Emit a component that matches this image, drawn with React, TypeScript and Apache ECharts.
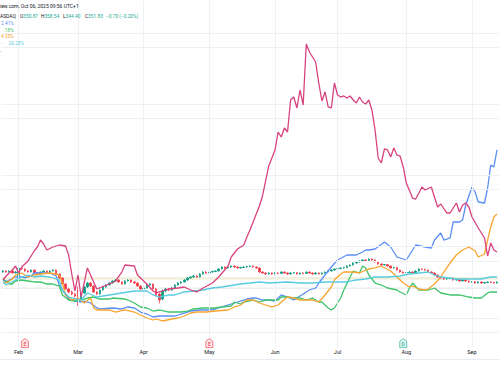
import React, { useEffect, useRef } from "react";
import * as echarts from "echarts";

// ---- calendar (trading days shown on the time scale) ----
const startDate = "2025-01-27";
const endDate = "2025-09-12";
const marketHolidays = ["2025-02-17", "2025-04-18", "2025-05-26", "2025-06-19", "2025-07-04", "2025-09-01"];
const monthNames = ["Jan", "Feb", "Mar", "Apr", "May", "Jun", "Jul", "Aug", "Sep", "Oct", "Nov", "Dec"];

// ---- main symbol candles: [open, close, low, high] ----
const candles: number[][] = [
  [362.0, 363.0, 361.2, 364.1], [363.0, 362.0, 361.1, 363.8], [362.0, 363.0, 361.4, 363.9], [363.0, 361.0, 360.2, 363.5],
  [361.0, 362.0, 360.5, 362.9], [356.0, 366.0, 355.2, 366.8], [366.0, 365.0, 364.1, 367.0], [365.0, 363.0, 362.2, 365.6],
  [363.0, 362.0, 361.3, 363.9], [362.0, 364.0, 361.5, 364.8], [364.0, 361.0, 360.4, 364.5], [361.0, 360.0, 359.1, 361.9],
  [360.0, 362.0, 359.5, 362.7], [362.0, 363.0, 361.2, 363.9], [363.0, 361.0, 360.3, 363.6], [361.0, 363.0, 360.6, 363.8],
  [363.0, 364.0, 362.4, 364.9], [364.0, 360.0, 359.2, 364.5], [360.0, 356.0, 355.1, 360.6], [356.0, 350.0, 349.0, 356.8],
  [350.0, 345.0, 344.1, 351.0], [345.0, 342.0, 340.8, 346.2], [342.0, 340.0, 338.9, 343.5], [340.0, 338.0, 336.5, 341.2],
  [344.0, 332.0, 328.0, 348.0], [334.0, 340.0, 332.5, 341.0], [341.0, 347.0, 339.8, 348.0], [347.0, 351.0, 346.0, 352.2],
  [351.0, 348.0, 347.1, 352.0], [348.0, 342.0, 341.0, 348.9], [342.0, 340.0, 338.8, 343.0], [340.0, 344.0, 339.2, 345.1],
  [344.0, 347.0, 343.3, 348.0], [347.0, 349.0, 346.2, 350.1], [349.0, 351.0, 348.4, 351.9], [351.0, 353.0, 350.2, 353.8],
  [353.0, 354.0, 352.1, 355.0], [354.0, 352.0, 351.3, 354.9], [352.0, 350.0, 349.2, 352.8], [350.0, 353.0, 349.5, 353.9],
  [353.0, 354.0, 352.4, 354.8], [354.0, 352.0, 351.0, 354.6], [352.0, 351.0, 350.1, 352.9], [351.0, 348.0, 347.2, 351.6],
  [348.0, 345.0, 344.0, 348.7], [345.0, 346.0, 343.8, 347.1], [346.0, 349.0, 345.4, 349.9], [349.0, 350.0, 348.2, 351.0],
  [350.0, 345.0, 344.1, 350.5], [345.0, 339.0, 337.8, 345.9], [340.0, 334.0, 330.5, 341.2], [335.0, 343.0, 333.6, 344.5],
  [343.0, 345.0, 341.8, 346.3], [345.0, 344.0, 342.9, 346.0], [344.0, 346.0, 343.1, 347.2], [346.0, 349.0, 345.3, 350.0],
  [349.0, 351.0, 348.1, 352.0], [351.0, 352.0, 350.2, 353.1], [352.0, 354.0, 351.4, 354.9], [354.0, 356.0, 353.2, 356.8],
  [356.0, 357.0, 355.3, 357.9], [357.0, 358.0, 356.2, 359.1], [358.0, 357.0, 356.1, 358.8], [357.0, 360.0, 356.5, 360.9],
  [360.0, 362.0, 359.2, 362.8], [362.0, 361.0, 360.1, 362.9], [361.0, 362.0, 360.3, 362.7], [362.0, 362.5, 361.3, 363.4],
  [362.5, 363.0, 361.8, 363.9], [363.0, 365.0, 362.4, 365.8], [365.0, 367.0, 364.3, 367.9], [367.0, 366.0, 365.2, 367.6],
  [366.0, 367.0, 365.4, 367.8], [367.0, 368.0, 366.2, 368.9], [368.0, 367.0, 366.1, 368.6], [367.0, 366.0, 365.3, 367.7],
  [366.0, 366.5, 365.2, 367.3], [366.5, 367.0, 365.8, 367.9], [367.0, 367.5, 366.2, 368.3], [367.5, 368.0, 366.8, 368.9],
  [368.0, 367.0, 366.1, 368.7], [367.0, 366.0, 365.2, 367.6], [366.0, 362.0, 361.0, 366.5], [362.0, 361.0, 360.1, 362.8],
  [361.0, 360.0, 359.2, 361.7], [360.0, 361.0, 359.4, 361.9], [361.0, 360.0, 359.1, 361.6], [360.0, 361.0, 359.3, 361.8],
  [361.0, 360.6, 359.8, 361.7], [360.6, 362.0, 360.0, 362.7], [362.0, 361.0, 360.3, 362.6], [361.0, 360.0, 359.1, 361.5],
  [360.0, 361.0, 359.4, 361.8], [361.0, 361.4, 360.2, 362.1], [361.4, 360.0, 359.3, 361.9], [360.0, 361.0, 359.5, 361.7],
  [361.0, 360.6, 359.9, 361.8], [360.6, 362.0, 360.1, 362.6], [362.0, 361.0, 360.2, 362.5], [361.0, 360.0, 359.2, 361.6],
  [360.0, 361.0, 359.5, 361.9], [361.0, 360.0, 359.3, 361.7], [360.0, 361.0, 359.6, 361.8], [361.0, 362.0, 360.4, 362.7],
  [362.0, 363.0, 361.5, 363.8], [363.0, 364.0, 362.3, 364.9], [364.0, 365.0, 363.4, 365.7], [365.0, 365.4, 364.2, 366.1],
  [365.4, 366.0, 364.8, 366.9], [366.0, 366.4, 365.2, 367.2], [366.4, 368.0, 365.9, 368.8], [368.0, 369.0, 367.3, 369.8],
  [369.0, 371.0, 368.4, 371.9], [371.0, 372.0, 370.2, 372.8], [372.0, 373.0, 371.3, 373.9], [373.0, 374.0, 372.4, 374.8],
  [374.0, 373.6, 372.8, 374.9], [373.6, 375.0, 373.1, 375.8], [375.0, 374.0, 373.2, 375.7], [374.0, 372.0, 371.2, 374.6],
  [372.0, 370.0, 369.1, 372.5], [370.0, 369.0, 368.3, 370.8], [369.0, 369.4, 368.2, 370.1], [369.4, 368.0, 367.2, 369.9],
  [368.0, 366.0, 365.3, 368.6], [366.0, 366.4, 365.2, 367.1], [366.4, 364.0, 363.2, 366.9], [364.0, 362.0, 361.1, 364.5],
  [362.0, 361.0, 360.2, 362.7], [361.0, 361.4, 360.3, 362.2], [361.4, 362.0, 360.9, 362.8], [362.0, 361.0, 360.2, 362.6],
  [361.0, 363.0, 360.5, 363.7], [363.0, 365.0, 362.3, 365.8], [365.0, 364.6, 363.8, 365.7], [364.6, 364.0, 363.1, 365.3],
  [364.0, 362.0, 361.3, 364.5], [362.0, 361.0, 360.2, 362.8], [361.0, 359.0, 358.1, 361.6], [359.0, 357.0, 356.2, 359.5],
  [357.0, 356.0, 355.3, 357.8], [356.0, 355.0, 354.1, 356.7], [355.0, 355.4, 354.2, 356.1], [355.4, 356.0, 354.8, 356.9],
  [356.0, 354.0, 353.3, 356.5], [354.0, 354.4, 353.2, 355.1], [354.4, 353.0, 352.2, 354.9], [353.0, 354.0, 352.5, 354.8],
  [354.0, 353.0, 352.2, 354.6], [353.0, 352.0, 351.1, 353.7], [352.0, 352.4, 351.3, 353.1], [352.4, 351.0, 350.2, 352.9],
  [351.0, 352.0, 350.4, 352.8], [352.0, 351.0, 350.1, 352.6], [351.0, 351.4, 350.3, 352.1], [351.4, 352.0, 350.8, 352.7],
  [352.0, 351.6, 350.9, 352.8], [351.6, 351.0, 350.2, 352.3], [351.0, 352.0, 350.3, 352.7],
];

// ---- compared symbols: [trading-day index, % change] ----
const magentaSeries: number[][] = [
  [0, -5.33], [1, -4.21], [3, -2.53], [4, -1.4], [5, -3.37], [6, -1.68], [8, 0], [10, 2.81], [11, 3.93], [12, 5.89],
  [13, 4.77], [14, 3.09], [16, 3.93], [18, 4.49], [20, 4.21], [21, 1.68], [22, -3.65], [23, -8.42], [24, -3.93],
  [25, -10.1], [27, -1.96], [29, -5.89], [30, -7.86], [34, -6.46], [36, -5.61], [38, -3.09], [39, -1.12], [42, -1.4],
  [43, -3.93], [45, -5.61], [46, -6.46], [48, -8.42], [49, -8.98], [53, -7.86], [56, -7.58], [58, -7.3], [60, -8.14],
  [62, -8.7], [64, -7.58], [67, -6.18], [69, -4.49], [72, -1.4], [73, 1.12], [75, 3.37], [77, 4.49], [78, 6.74],
  [79, 8.7], [80, 10.95], [81, 13.19], [82, 15.44], [83, 18.25], [84, 22.46], [85, 26.67], [87, 31.16], [88, 36.21],
  [89, 34.81], [90, 37.33], [91, 36.21], [92, 45.19], [93, 46.03], [94, 42.95], [95, 48.0], [96, 43.79], [97, 60.91],
  [98, 58.67], [100, 55.86], [101, 49.96], [102, 44.91], [103, 47.44], [104, 43.23], [105, 42.95], [106, 49.96],
  [107, 46.6], [108, 46.03], [109, 46.32], [110, 45.75], [111, 46.32], [112, 45.19], [113, 44.35], [114, 46.03],
  [115, 44.63], [116, 44.07], [117, 45.19], [118, 42.39], [119, 36.77], [120, 28.91], [121, 27.51], [122, 31.44],
  [123, 31.16], [124, 29.19], [125, 31.72], [126, 29.75], [127, 29.47], [128, 26.39], [129, 21.89], [131, 17.68],
  [132, 17.4], [134, 20.77], [135, 19.93], [137, 20.77], [138, 17.96], [139, 15.16], [140, 16.0], [142, 13.47],
  [143, 13.47], [145, 16.28], [146, 13.75], [147, 15.72], [148, 16.28], [149, 15.16], [150, 12.35], [152, 9.26],
  [154, 6.46], [155, 1.4], [156, 5.05], [157, 3.09], [158, 2.53],
];
const blueSeries: number[][] = [
  [0, -5.33], [1, -5.89], [2, -5.33], [4, -4.49], [6, -4.49], [7, -4.77], [9, -4.21], [10, -3.37], [13, -3.37],
  [15, -3.37], [17, -4.21], [18, -6.74], [19, -8.14], [21, -10.67], [23, -11.23], [25, -11.51], [26, -11.23],
  [28, -11.79], [30, -13.19], [31, -13.47], [35, -13.19], [38, -13.47], [40, -12.91], [42, -13.19], [44, -14.32],
  [46, -14.88], [48, -15.72], [50, -15.44], [55, -15.44], [58, -14.6], [60, -14.04], [63, -13.75], [66, -13.75],
  [68, -13.47], [70, -12.91], [73, -12.07], [76, -11.23], [78, -10.67], [80, -10.39], [81, -10.39], [83, -10.95],
  [85, -10.95], [87, -11.23], [88, -10.39], [89, -9.54], [91, -10.11], [93, -10.95], [94, -10.39], [97, -8.7],
  [98, -8.14], [100, -7.58], [101, -6.18], [103, -3.93], [105, -1.68], [107, 0.28], [110, 1.68], [112, 1.68],
  [113, 1.68], [115, 2.53], [116, 3.09], [117, 3.09], [119, 3.37], [122, 5.33], [124, 3.93], [126, 1.12], [127, 0.84],
  [129, 0.28], [130, 1.68], [132, 4.49], [135, 3.93], [137, 3.65], [138, 5.89], [140, 7.86], [141, 5.89], [143, 6.46],
  [144, 10.95], [146, 10.95], [147, 11.51], [148, 15.72], [150, 20.77], [151, 19.37], [152, 16.56], [154, 16.28],
  [155, 20.49], [156, 26.95], [157, 26.39], [158, 31.16],
];
const orangeSeries: number[][] = [
  [0, -5.89], [1, -6.18], [3, -5.05], [4, -3.93], [6, -3.37], [8, -4.49], [10, -3.93], [12, -3.65], [15, -3.37],
  [18, -3.93], [19, -6.18], [20, -9.54], [22, -10.95], [24, -10.39], [26, -11.79], [28, -10.39], [29, -13.19],
  [30, -13.75], [34, -13.75], [36, -14.32], [39, -13.75], [42, -14.32], [44, -15.16], [46, -16.0], [48, -16.56],
  [49, -16.28], [51, -16.84], [54, -16.28], [56, -16.0], [58, -15.44], [60, -14.6], [62, -14.32], [65, -14.32],
  [68, -14.04], [72, -13.75], [74, -12.91], [76, -12.35], [78, -10.95], [80, -10.95], [82, -11.79], [84, -12.35],
  [86, -12.91], [88, -12.35], [89, -11.51], [91, -10.11], [93, -10.39], [95, -10.95], [97, -10.95], [99, -10.95],
  [101, -11.51], [103, -9.54], [105, -7.3], [106, -5.33], [108, -3.65], [109, -3.09], [112, -3.09], [114, -3.37],
  [116, -2.53], [117, -2.25], [119, -1.96], [121, -1.4], [124, -2.81], [126, -4.49], [128, -6.18], [130, -7.3],
  [131, -7.02], [133, -7.86], [135, -8.14], [136, -7.86], [138, -6.46], [140, -4.49], [141, -3.09], [143, -0.56],
  [145, 1.68], [147, 3.09], [149, 3.93], [151, 2.81], [152, 1.12], [154, 1.96], [155, 5.89], [156, 9.54],
  [157, 12.35], [158, 13.19],
];
const greenSeries: number[][] = [
  [0, -5.05], [1, -5.61], [2, -6.46], [3, -6.46], [4, -5.61], [6, -5.33], [8, -5.61], [10, -5.89], [12, -5.89],
  [14, -6.46], [16, -6.46], [18, -7.02], [19, -9.54], [21, -10.95], [23, -11.23], [25, -10.95], [27, -10.39],
  [29, -10.11], [31, -10.67], [34, -10.67], [35, -10.39], [39, -10.67], [40, -10.95], [42, -11.79], [44, -12.91],
  [46, -13.19], [48, -14.04], [50, -13.75], [53, -14.32], [57, -14.32], [59, -14.04], [61, -13.47], [64, -13.19],
  [66, -13.19], [68, -13.19], [70, -12.91], [73, -12.63], [74, -11.51], [76, -12.07], [77, -11.51], [80, -10.95],
  [82, -11.51], [84, -10.95], [88, -10.95], [89, -10.11], [91, -10.11], [93, -10.39], [95, -10.39], [97, -10.95],
  [99, -10.39], [101, -11.51], [102, -11.51], [104, -13.19], [105, -13.75], [106, -13.19], [108, -10.39],
  [109, -8.14], [111, -4.49], [112, -2.81], [113, -3.09], [114, -3.37], [115, -1.4], [116, -1.96], [117, -3.93],
  [119, -6.18], [121, -6.74], [123, -7.58], [126, -8.14], [127, -8.7], [129, -9.54], [130, -7.58], [131, -6.18],
  [133, -8.14], [136, -8.14], [138, -7.58], [140, -8.98], [143, -9.54], [146, -9.54], [149, -10.11], [151, -10.39],
  [153, -10.39], [155, -8.98], [156, -8.7], [158, -8.7],
];
const cyanSeries: number[][] = [
  [0, -5.89], [1, -6.74], [4, -5.33], [6, -4.49], [8, -3.93], [10, -4.49], [12, -4.21], [15, -4.49], [18, -5.33],
  [19, -8.14], [21, -10.11], [25, -10.95], [27, -8.98], [30, -10.11], [34, -9.54], [38, -8.98], [42, -8.42],
  [46, -8.42], [48, -9.54], [50, -10.11], [53, -9.54], [55, -9.54], [58, -8.7], [61, -8.42], [64, -8.14], [67, -7.58],
  [70, -7.3], [74, -6.74], [76, -6.46], [79, -6.18], [82, -5.89], [85, -6.18], [91, -5.89], [95, -6.18], [99, -6.18],
  [103, -5.89], [110, -5.89], [113, -5.33], [116, -5.05], [119, -4.49], [123, -4.49], [127, -4.21], [130, -3.65],
  [133, -3.37], [136, -3.09], [138, -3.93], [140, -4.49], [145, -5.05], [149, -5.05], [153, -5.05], [156, -4.49],
  [158, -4.49],
];

// ---- reference lines / events ----
const gridPctLevels = [64, 60, 44, 40, 24, 20, 4, 0, -16, -20];
const priceBands = [[354.3, 357.0], [344.9, 346.6]];
const events = [
  { date: "2025-02-05", kind: "E" },
  { date: "2025-05-01", kind: "E" },
  { date: "2025-07-31", kind: "D" },
];

// ---- legend texts ----
const headerText = "iew.com, Oct 06, 2025 09:56 UTC+1";
const symbolText = "ASDAQ";
const ohlcLabels = [["O", "350.87"], ["H", "358.54"], ["L", "344.40"], ["C", "351.83"]];
const changeText = "\u22120.70 (\u22120.20%)";
const compareTexts = ["2.41%", ".18%", "4.35%", "26.23%", "-"];

function tradingDays(): string[] {
  const out: string[] = [];
  const d = new Date(startDate + "T00:00:00Z");
  const end = new Date(endDate + "T00:00:00Z");
  while (d.getTime() <= end.getTime()) {
    const dow = d.getUTCDay();
    const s = d.toISOString().slice(0, 10);
    if (dow !== 0 && dow !== 6 && marketHolidays.indexOf(s) < 0) out.push(s);
    d.setUTCDate(d.getUTCDate() + 1);
  }
  return out;
}

export default function App() {
  const ref = useRef<HTMLDivElement>(null);
  useEffect(() => {
    if (!ref.current) return;
    const chart = echarts.init(ref.current, undefined, { renderer: "svg" });
    const days = tradingDays();
    const n = days.length;
    const monthStarts: number[] = [];
    days.forEach((d, i) => {
      if (i > 0 && d.slice(5, 7) !== days[i - 1].slice(5, 7)) monthStarts.push(i);
    });

    const pctMin = -24.14;
    const pctMax = 73.26;
    const font = "Roboto, 'Liberation Sans', sans-serif";
    const dark = "#131722";
    const teal = "#22ab94";

    const colors = {
      magenta: "#d8437f",
      blue: "#5b8ff5",
      orange: "#f7a531",
      green: "#3fc46a",
      cyan: "#58cbe0",
    };

    const lineSeries = (name: string, data: number[][], color: string, z: number) => ({
      name,
      type: "line",
      xAxisIndex: 1,
      yAxisIndex: 1,
      data,
      showSymbol: false,
      symbol: "none",
      lineStyle: { color, width: 1.3 },
      z,
      silent: true,
    });

    const badgePath = "path://M4 0 L8 3 L8 10 L0 10 L0 3 Z";
    const badgeData = events.map((e) => ({
      value: [days.indexOf(e.date), pctMin + 1.1],
      symbol: badgePath,
      symbolSize: [7, 9],
      itemStyle: {
        color: e.kind === "E" ? "#fde1e4" : "#d9f3ee",
        borderColor: e.kind === "E" ? "#f23645" : "#22ab94",
        borderWidth: 0.8,
      },
      label: {
        show: true,
        formatter: e.kind,
        color: e.kind === "E" ? "#f23645" : "#22ab94",
        fontSize: 5,
        fontWeight: "bold",
        fontFamily: font,
        position: "inside",
        offset: [0, 0.8],
      },
    }));

    const textRow = (text: string, x: number, y: number, fill: string, size = 4.8) => ({
      type: "text",
      x,
      y,
      silent: true,
      z: 100,
      style: { text, fill, fontSize: size, fontFamily: font, verticalAlign: "middle", textVerticalAlign: "middle" },
    });

    const ohlcX = [20, 41, 63, 85];
    const graphic: any[] = [
      textRow(headerText, 0, 6, dark, 5),
      textRow(symbolText, 0, 16, dark, 4.9),
      ...ohlcLabels.map((p, i) => ({
        type: "text",
        x: ohlcX[i],
        y: 16,
        silent: true,
        z: 100,
        style: {
          text: `{l|${p[0]}}{v|${p[1]}}`,
          fontSize: 4.8,
          fontFamily: font,
          verticalAlign: "middle",
          textVerticalAlign: "middle",
          rich: {
            l: { fill: dark, fontSize: 4.8, fontFamily: font },
            v: { fill: teal, fontSize: 4.8, fontFamily: font },
          },
        },
      })),
      textRow(changeText, 106, 16, teal),
      textRow(compareTexts[0], 1, 23, colors.blue),
      textRow(compareTexts[1], 3.5, 30, colors.green),
      textRow(compareTexts[2], 1, 36.5, colors.orange),
      textRow("-", 1, 43, colors.cyan),
      textRow(compareTexts[3], 8.5, 43, colors.cyan),
      textRow(compareTexts[4], 0, 51, colors.magenta),
      {
        type: "line",
        silent: true,
        shape: { x1: 0, y1: 359.5, x2: 500, y2: 359.5 },
        style: { stroke: "#e9ecf1", lineWidth: 1 },
      },
    ];

    const option: any = {
      animation: false,
      backgroundColor: "#ffffff",
      grid: { left: 0, right: 0, top: 0, bottom: 36, containLabel: false },
      xAxis: [
        {
          type: "category",
          data: days,
          boundaryGap: true,
          axisLine: { show: false },
          axisTick: { show: false },
          splitLine: { show: false },
          axisLabel: {
            interval: 0,
            margin: 2,
            fontSize: 5.5,
            color: dark,
            fontFamily: font,
            formatter: (v: string, i: number) =>
              monthStarts.indexOf(i) >= 0 ? monthNames[parseInt(v.slice(5, 7), 10) - 1] : "",
          },
        },
        { type: "value", min: -0.5, max: n - 0.5, show: false },
      ],
      yAxis: [
        { type: "value", min: 287, max: 634, show: false, splitLine: { show: false } },
        { type: "value", min: pctMin, max: pctMax, show: false, splitLine: { show: false } },
      ],
      series: [
        {
          name: "grid",
          type: "line",
          xAxisIndex: 1,
          yAxisIndex: 1,
          data: [[-5, 0]],
          symbol: "none",
          lineStyle: { opacity: 0 },
          silent: true,
          z: 0,
          markLine: {
            silent: true,
            symbol: ["none", "none"],
            label: { show: false },
            lineStyle: { color: "#edf0f5", width: 1, type: "solid" },
            data: [
              ...gridPctLevels.map((v) => ({ yAxis: v })),
              ...monthStarts.map((i) => ({ xAxis: i })),
            ],
          },
        },
        {
          name: "NASDAQ",
          type: "candlestick",
          xAxisIndex: 0,
          yAxisIndex: 0,
          data: candles,
          barWidth: "64%",
          z: 2,
          silent: true,
          itemStyle: {
            color: "#089981",
            color0: "#f23645",
            borderColor: "#089981",
            borderColor0: "#f23645",
            borderWidth: 0.7,
          },
          markArea: {
            silent: true,
            data: [
              [{ yAxis: priceBands[0][0], itemStyle: { color: "rgba(226,222,178,0.45)" } }, { yAxis: priceBands[0][1] }],
              [{ yAxis: priceBands[1][0], itemStyle: { color: "rgba(200,203,210,0.35)" } }, { yAxis: priceBands[1][1] }],
            ],
          },
        },
        lineSeries("Compare blue", blueSeries, colors.blue, 3),
        lineSeries("Compare green", greenSeries, colors.green, 4),
        lineSeries("Compare orange", orangeSeries, colors.orange, 5),
        lineSeries("Compare cyan", cyanSeries, colors.cyan, 6),
        lineSeries("Compare magenta", magentaSeries, colors.magenta, 7),
        {
          name: "events",
          type: "scatter",
          xAxisIndex: 1,
          yAxisIndex: 1,
          data: badgeData,
          z: 8,
          silent: true,
        },
      ],
      graphic,
    };
    chart.setOption(option);
    return () => chart.dispose();
  }, []);

  return (
    <div
      ref={ref}
      style={{ position: "fixed", left: 0, top: 0, width: 500, height: 383, background: "#ffffff" }}
    />
  );
}
